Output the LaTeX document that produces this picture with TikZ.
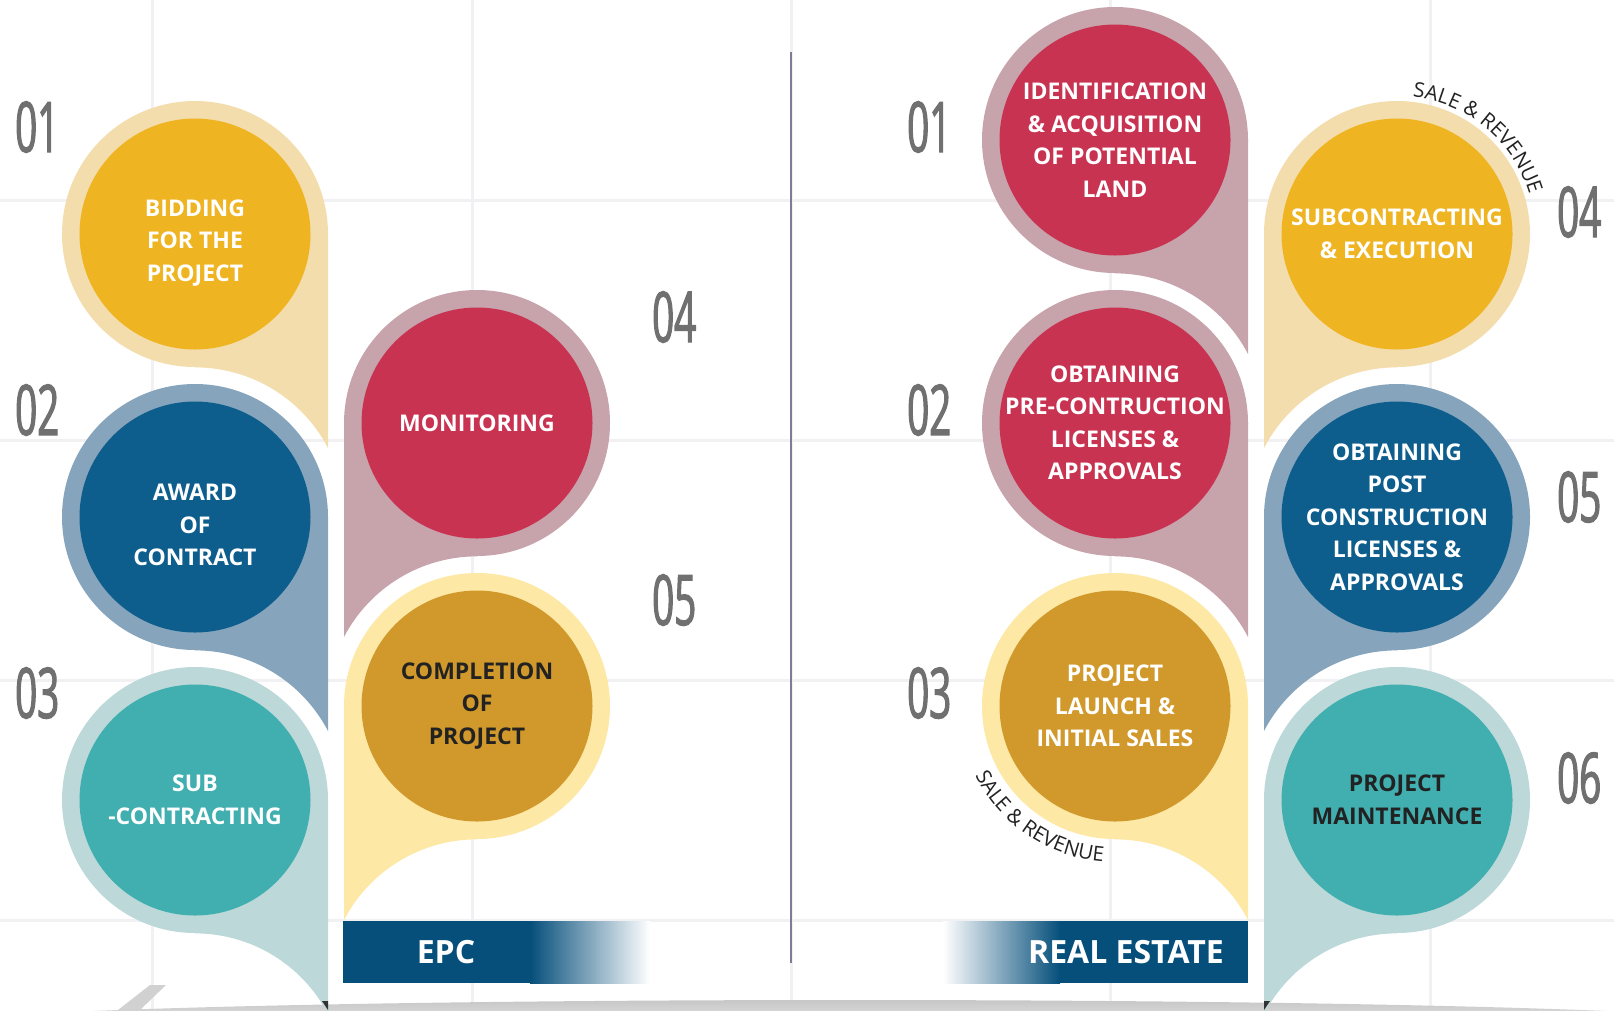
\documentclass[tikz,border=0pt]{standalone}
\usepackage{fontspec}
\setmainfont{Open Sans}
\newfontfamily\numfont[FakeStretch=0.55,FakeBold=1.6]{Open Sans}
\usetikzlibrary{decorations.text}

\definecolor{yelI}{HTML}{EFB421}
\definecolor{yelO}{HTML}{F4DDAC}
\definecolor{bluI}{HTML}{0E5E8D}
\definecolor{bluO}{HTML}{86A4BC}
\definecolor{teaI}{HTML}{41AEAF}
\definecolor{teaO}{HTML}{BCD8D9}
\definecolor{redI}{HTML}{C93352}
\definecolor{redO}{HTML}{C7A3AC}
\definecolor{golI}{HTML}{D1992C}
\definecolor{golO}{HTML}{FEE8A6}
\definecolor{barblue}{HTML}{064F7B}
\definecolor{numgray}{HTML}{707070}
\definecolor{gridgray}{HTML}{F1F1F4}
\definecolor{divgray}{HTML}{7E7B99}
\definecolor{ink}{HTML}{222222}

\newcommand{\stepfont}{\bfseries\fontsize{23}{32.5}\selectfont}
\newcommand{\digitfont}{\numfont\fontsize{70}{70}\selectfont}
\newcommand{\salefont}{\color{ink}\fontsize{20.5}{20.5}\selectfont}

\begin{document}
\begin{tikzpicture}[x=1pt,y=-1pt,
    gridline/.style={gridgray,line width=3pt},
    shell/.style={circle,minimum size=266pt,inner sep=0pt},
    core/.style={circle,minimum size=231pt,inner sep=0pt},
    steptext/.style={align=center,font=\stepfont,text=white,inner sep=0pt},
    num/.style={anchor=west,inner sep=0pt,font=\digitfont,text=numgray},
    bartext/.style={font=\bfseries\fontsize{32}{32}\selectfont,text=white}]

  \useasboundingbox (0,0) rectangle (1614,1010);

  % background grid
  \foreach \gx in {152,472,791,1110,1430}
    \draw[gridline] (\gx,0) -- (\gx,1010);
  \foreach \gy in {200,440,680,920}
    \draw[gridline] (0,\gy) -- (1614,\gy);
  \draw[divgray,line width=2.5pt] (791,52) -- (791,963);

  % floor shadow
  \shade[top color=black!22,bottom color=white] (850,1024) ellipse [x radius=900,y radius=24];
  \fill[black!18] (150,985) -- (166,985) -- (140,1010) -- (118,1010) -- cycle;

  % bubbles: name/x/y/colour/tail side/arc angles
  \foreach \n/\cx/\cy/\col/\dx/\sa/\ea in {
      e1/195/234/yel/133/-27.55/-90, e2/195/517/blu/133/-27.55/-90,
      e3/195/800/tea/133/-27.55/-90,
      e4/477/423/red/-133/207.55/270, e5/477/706/gol/-133/207.55/270,
      r1/1115/140/red/133/-27.55/-90, r2/1115/423/red/133/-27.55/-90,
      r3/1115/706/gol/133/-27.55/-90,
      r4/1397/234/yel/-133/207.55/270, r5/1397/517/blu/-133/207.55/270,
      r6/1397/800/tea/-133/207.55/270}
  {
    \node[shell,fill=\col O] (\n) at (\cx,\cy) {};
    \path[fill=\col O] (\n.center) -- ++(\dx,0) -- ++(0,214)
      arc[start angle=\sa,end angle=\ea,radius=150] -- cycle;
    \node[core,fill=\col I] (\n c) at (\n) {};
  }

  \node[steptext] (e1t) at ([yshift=-9pt]e1) {BIDDING\\FOR THE\\PROJECT};
  \node[steptext] (e2t) at ([yshift=-8pt]e2) {AWARD\\OF\\CONTRACT};
  \node[steptext] (e3t) at (e3) {SUB\\-CONTRACTING};
  \node[steptext] (e4t) at (e4) {MONITORING};
  \node[steptext,text=ink] (e5t) at (e5) {COMPLETION\\OF\\PROJECT};
  \node[steptext] (r1t) at (r1) {IDENTIFICATION\\\& ACQUISITION\\OF POTENTIAL\\LAND};
  \node[steptext] (r2t) at (r2) {OBTAINING\\PRE-CONTRUCTION\\LICENSES \&\\APPROVALS};
  \node[steptext] (r3t) at (r3) {PROJECT\\LAUNCH \&\\INITIAL SALES};
  \node[steptext] (r4t) at (r4) {SUBCONTRACTING\\\& EXECUTION};
  \node[steptext] (r5t) at (r5) {OBTAINING\\POST\\CONSTRUCTION\\LICENSES \&\\APPROVALS};
  \node[steptext,text=ink] (r6t) at (r6) {PROJECT\\MAINTENANCE};

  % step numbers
  \node[num] (e1n) at (15,127) {01};
  \node[num] (e2n) at (15,410) {02};
  \node[num] (e3n) at (15,693) {03};
  \node[num] (e4n) at (652,317) {04};
  \node[num] (e5n) at (652,600) {05};
  \node[num] (r1n) at (907,127) {01};
  \node[num] (r2n) at (907,410) {02};
  \node[num] (r3n) at (907,693) {03};
  \node[num] (r4n) at (1557,212) {04};
  \node[num] (r5n) at (1557,497) {05};
  \node[num] (r6n) at (1557,778) {06};

  % sale & revenue arcs
  \path[decorate,decoration={text along path,text align=center,
      text={|\salefont|SALE {\&} REVENUE}}]
    (r4) ++(-95:138) arc[start angle=-95,end angle=-5,radius=138];
  \path[decorate,decoration={text along path,text align=center,
      text={|\salefont|SALE {\&} REVENUE}}]
    (r3) ++(168:156) arc[start angle=168,end angle=80,radius=156];

  % segment bars
  \fill[barblue] (343,921) rectangle (530,983);
  \shade[left color=barblue,right color=white] (530,921) rectangle (650,983);
  \node[bartext] (epc) at (446,952) {EPC};
  \shade[left color=white,right color=barblue] (943,921) rectangle (1060,983);
  \fill[barblue] (1060,921) rectangle (1248,983);
  \node[bartext] (re) at (1126,952) {REAL ESTATE};

  % tail tips
  \fill[black!80] (322,1001) -- (328,1001) -- (328,1010) -- cycle;
  \fill[black!80] (1264,1001) -- (1270,1001) -- (1264,1010) -- cycle;
\end{tikzpicture}
\end{document}
